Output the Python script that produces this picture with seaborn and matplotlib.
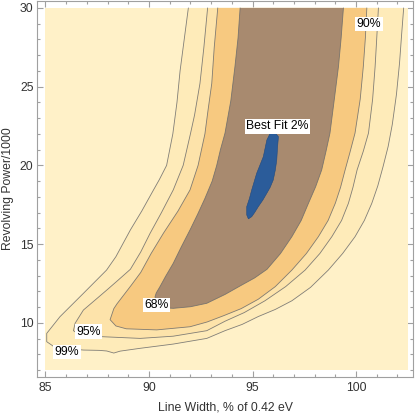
import matplotlib
matplotlib.use("Agg")
import matplotlib.pyplot as plt
import seaborn as sns
import pandas as pd
from matplotlib.ticker import MultipleLocator

# ---------------- data ----------------
plot_range_x = [85.0, 102.5]
plot_range_y = [7.0, 30.0]

# 99% confidence contour (open at the top edge)
c99_x = [91.9, 91.7, 91.5, 91.35, 91.15, 90.85, 90.5, 90.2, 89.65, 89.1, 88.4, 87.95,
         86.83, 85.7, 85.06, 85.06, 85.46, 86.83, 87.6, 87.96, 88.3, 88.6, 89.57, 91.17,
         92.79, 93.67, 94.5, 95.28, 96.1, 96.9, 97.8, 98.66, 99.35, 99.95, 100.4, 100.76,
         101.05, 101.3, 101.55, 101.75, 101.95, 102.1, 102.2, 102.3]
c99_y = [30.0, 28.0, 26.0, 24.0, 22.0, 20.0, 19.1, 18.4, 17.1, 15.9, 14.2, 13.35,
         11.87, 10.39, 9.33, 8.8, 8.44, 8.27, 8.25, 8.21, 8.08, 8.2, 8.38, 8.65,
         9.01, 9.5, 9.9, 10.4, 10.85, 11.4, 12.25, 13.35, 14.4, 15.47, 16.5, 17.59,
         18.7, 19.9, 21.2, 22.6, 24.5, 26.5, 28.3, 30.0]

# 95% contour
c95_x = [92.83, 92.65, 92.46, 92.2, 92.0, 91.65, 91.17, 90.6, 90.05, 89.6, 89.1, 88.5,
         87.96, 87.4, 86.83, 86.43, 86.35, 86.7, 87.71, 89.57, 91.17, 92.79, 93.67, 94.6,
         95.6, 96.6, 97.54, 98.25, 98.83, 99.3, 99.63, 99.85, 100.05, 100.35, 100.6,
         100.8, 100.92, 101.0, 101.08]
c95_y = [30.0, 27.5, 25.2, 23.2, 22.0, 20.0, 18.44, 17.0, 15.68, 14.5, 13.4, 12.7,
         12.08, 11.45, 10.81, 9.97, 9.5, 9.2, 9.12, 9.01, 9.15, 9.5, 10.1, 10.65,
         11.4, 12.3, 13.35, 14.4, 15.47, 16.5, 17.59, 18.6, 19.71, 20.9, 22.05,
         24.2, 26.27, 28.1, 30.0]

# 90% contour
c90_x = [93.32, 93.15, 93.03, 92.85, 92.7, 92.37, 91.98, 91.4, 90.7, 90.1, 89.6, 89.15,
         88.8, 88.45, 88.3, 88.12, 88.4, 88.9, 90.37, 91.98, 92.8, 93.6, 94.45, 95.28,
         96.1, 96.9, 97.6, 98.18, 98.65, 99.0, 99.25, 99.47, 99.7, 99.95, 100.2, 100.35,
         100.45, 100.52]
c90_y = [30.0, 27.5, 25.2, 23.5, 22.0, 20.0, 18.44, 17.1, 15.7, 14.4, 13.2, 12.4,
         11.8, 11.2, 10.9, 10.2, 9.8, 9.62, 9.55, 9.75, 10.05, 10.45, 10.9, 11.5,
         12.3, 13.35, 14.4, 15.47, 16.5, 17.6, 18.6, 19.7, 20.8, 22.05, 24.2, 26.27,
         28.1, 30.0]

# 68% contour
c68_x = [94.4, 94.3, 94.15, 93.95, 93.67, 93.45, 93.27, 93.05, 92.7, 92.35, 91.98, 91.55,
         91.17, 90.8, 90.53, 90.35, 90.29, 90.33, 90.5, 90.8, 91.17, 92.0, 92.79, 93.67,
         94.48, 95.1, 95.7, 96.35, 96.9, 97.35, 97.7, 98.05, 98.34, 98.55, 98.74, 98.95,
         99.15, 99.28, 99.39]
c68_y = [30.0, 28.1, 26.27, 24.1, 22.05, 21.0, 20.0, 19.0, 17.9, 16.9, 15.9, 14.8,
         13.78, 12.95, 12.3, 11.9, 11.66, 11.35, 11.1, 10.95, 10.92, 11.02, 11.24, 11.8,
         12.4, 12.85, 13.4, 14.4, 15.47, 16.5, 17.59, 18.65, 19.71, 20.9, 22.05, 24.2,
         26.27, 28.1, 30.0]

# best-fit (2%) region, closed outline
best_x = [95.95, 96.25, 96.2, 96.17, 96.1, 96.0, 95.85, 95.69, 95.5, 95.28, 95.1, 94.96,
          94.8, 94.72, 94.72, 94.85, 94.96, 95.2, 95.52, 95.69]
best_y = [22.3, 21.82, 21.0, 20.34, 19.7, 19.07, 18.6, 18.23, 17.8, 17.38, 17.0, 16.74,
          16.6, 16.85, 17.38, 17.9, 18.44, 19.5, 20.55, 21.61]

label_text = ["99%", "95%", "68%", "90%", "Best Fit 2%"]
label_x = [86.04, 87.07, 90.37, 100.62, 96.2]
label_y = [8.14, 9.44, 11.13, 28.97, 22.48]

x_ticks = [85, 90, 95, 100]
y_ticks = [10, 15, 20, 25, 30]

# ---------------- styling ----------------
sns.set_style("ticks")
plt.rcParams["font.family"] = ["Liberation Sans", "DejaVu Sans"]
FS = 8.8
TXT = "#333333"
FRAME = "#a0a0a0"

col_bg = "#fff1c8"
col_99 = "#feebb9"
col_95 = "#fde3aa"
col_90 = "#f7c980"
col_68 = "#a88a6f"
col_best = "#2b5c9a"
line_col = "#6b6b6b"

fig = plt.figure(figsize=(4.15, 4.16), dpi=100)
ax = fig.add_axes([37 / 415, 1 - 376.5 / 416, 376 / 415, 375.5 / 416])

ax.fill_between(plot_range_x, plot_range_y[0], plot_range_y[1], color=col_bg, lw=0, zorder=1)
for cx, cy, col in [(c99_x, c99_y, col_99), (c95_x, c95_y, col_95),
                    (c90_x, c90_y, col_90), (c68_x, c68_y, col_68)]:
    ax.fill(cx, cy, color=col, lw=0, zorder=2)
    df = pd.DataFrame({"x": cx, "y": cy})
    sns.lineplot(data=df, x="x", y="y", sort=False, estimator=None, color=line_col,
                 linewidth=0.6, alpha=0.85, ax=ax, zorder=3)
ax.fill(best_x, best_y, color=col_best, lw=0.4, ec="#1f4a80", zorder=4)

for t, x, y in zip(label_text, label_x, label_y):
    ax.text(x, y, t, ha="center", va="center", fontsize=FS, color="black", zorder=6,
            bbox=dict(fc="white", ec="none", pad=1.0))

ax.set_xlim(84.59, 102.75)
ax.set_ylim(6.59, 30.44)
ax.set_xticks(x_ticks)
ax.set_yticks(y_ticks)
ax.xaxis.set_minor_locator(MultipleLocator(1))
ax.yaxis.set_minor_locator(MultipleLocator(1))
ax.tick_params(which="both", direction="in", top=True, right=True, color=FRAME,
               labelsize=FS, labelcolor=TXT, width=0.8)
ax.tick_params(which="major", length=4.0)
ax.tick_params(which="minor", length=2.2)
ax.tick_params(axis="x", pad=4)
ax.tick_params(axis="y", pad=2.5)
for s in ax.spines.values():
    s.set_color(FRAME)
    s.set_linewidth(0.8)

ax.set_xlabel("Line Width, % of 0.42 eV", fontsize=FS, color=TXT, labelpad=5.5)
ax.set_ylabel("Revolving Power/1000", fontsize=FS, color=TXT, labelpad=4)

fig.savefig("out.png", dpi=100)
